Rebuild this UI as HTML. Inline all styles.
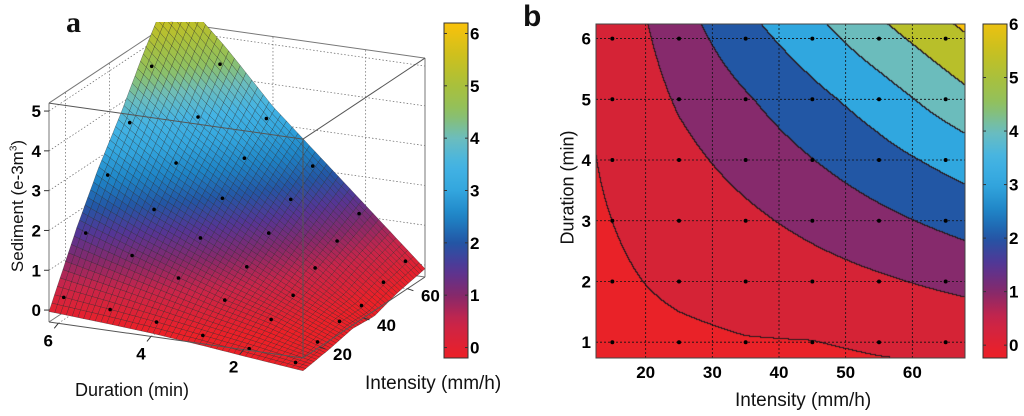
<!DOCTYPE html>
<html><head><meta charset="utf-8"><style>
body{margin:0;background:#fff;width:1024px;height:416px;overflow:hidden;position:relative;font-family:"Liberation Sans",sans-serif}
.t{position:absolute;font-size:15px;color:#111;white-space:nowrap}
#cv{position:absolute;left:596px;top:24px}
svg{position:absolute;left:0;top:0}
</style></head><body>
<svg id="sa" width="1024" height="416"></svg>
<canvas id="cv" width="369" height="334"></canvas>
<svg id="sb" width="1024" height="416"></svg>
<div class="t" style="left:66px;top:6px;font:bold 30px 'Liberation Serif',serif">a</div>
<div class="t" style="left:523px;top:0px;font:bold 30px 'Liberation Sans',sans-serif">b</div>
<div class="t" style="left:75px;top:380px;font-size:18px">Duration (min)</div>
<div class="t" style="left:365px;top:373px;font-size:19px">Intensity (mm/h)</div>
<div class="t" style="left:-57px;top:196px;transform:rotate(-90deg);width:150px;text-align:center;font-size:17px">Sediment (e-3m<sup style="font-size:10px">3</sup>)</div>
<div class="t" style="left:735px;top:390px;font-size:19px">Intensity (mm/h)</div>
<div class="t" style="left:508px;top:177px;transform:rotate(-90deg);width:120px;text-align:center;font-size:18px">Duration (min)</div>
<script>
const intensities=[15,25,35,45,55,65];
const durations=[1,2,3,4,5,6];
const sediment=[ // rows: intensity, cols: duration
[-0.55,-0.37,-0.20,-0.03,0.12,0.26],
[-0.40,0.00,0.32,0.71,1.11,1.51],
[-0.25,0.24,0.79,1.35,1.90,2.60],
[-0.22,0.56,1.27,1.98,2.70,3.55],
[0.00,0.87,1.75,2.62,3.49,4.60],
[0.16,1.19,2.22,3.25,4.45,5.60]];
const levels=[-0.2,1,2,3,4,5,6];
const bandColors=['#e92228','#d52336','#862a6c','#2257a5','#30a7df','#6bbcbc','#b8bf2a','#fcc20a'];
const cbTicks=[0,1,2,3,4,5,6];
const xTicksB=[20,30,40,50,60];
const yTicksB=[1,2,3,4,5,6];
const zTicksA=[0,1,2,3,4,5];
const dTicksA=[6,4,2];
const iTicksA=[20,40,60];
const NS='http://www.w3.org/2000/svg';
function z(I,D){
  let i=Math.min(4,Math.max(0,Math.floor((I-15)/10))),j=Math.min(4,Math.max(0,Math.floor(D-1)));
  let t=(I-intensities[i])/10,s=(D-durations[j]);
  return sediment[i][j]*(1-t)*(1-s)+sediment[i+1][j]*t*(1-s)+sediment[i][j+1]*(1-t)*s+sediment[i+1][j+1]*t*s;
}
const stops=[[-0.2,[236,32,39]],[0.5,[200,37,74]],[1,[134,41,107]],[1.5,[85,53,149]],[2,[35,86,165]],[2.5,[30,132,198]],[3,[51,166,222]],[3.5,[68,180,228]],[4,[108,189,189]],[4.5,[143,192,96]],[5,[169,192,60]],[5.5,[200,192,32]],[6.2,[250,194,10]]];
function cmap(v){v=Math.max(-0.2,Math.min(6.2,v));for(let k=0;k<stops.length-1;k++){const a=stops[k],b=stops[k+1];if(v<=b[0]){const t=(v-a[0])/(b[0]-a[0]);return 'rgb('+a[1].map((c,q)=>Math.round(c+(b[1][q]-c)*t)).join(',')+')';}}return 'rgb(250,194,10)';}
function el(p,tag,at,name,txt){const e=document.createElementNS(NS,tag);for(const k in at)e.setAttribute(k,at[k]);


if(txt!==undefined)e.textContent=txt;p.appendChild(e);return e;}
const TF={'font-size':17,'font-weight':'bold','font-family':'Liberation Sans'};
function txt(p,x,y,anchor,name,t){return el(p,'text',Object.assign({x:x,y:y,'text-anchor':anchor},TF),name,t);}
// ---------- panel a ----------
const Imin=12.5,Imax=68,Dmin=0.72,Dmax=6.2,Zmin=-0.3,Zmax=5.2;
function P(I,D,zz){const u=(I-Imin)/(Imax-Imin),v=(D-Dmin)/(Dmax-Dmin);return [303+u*122-v*254,358-u*81-v*36-(zz-Zmin)*39.8];}
const sa=document.getElementById('sa');
const defs=el(sa,'defs',{},'defs');
const cp=el(defs,'clipPath',{id:'clipA'},'clip');el(cp,'rect',{x:0,y:22,width:440,height:400},'clip-rect');
const grad=el(defs,'linearGradient',{id:'cb',x1:0,y1:1,x2:0,y2:0},'colorbar-gradient');
for(let v=-0.2;v<=6.21;v+=0.2)el(grad,'stop',{offset:((v+0.2)/6.4).toFixed(3),'stop-color':cmap(v)},'gradient-stop');
const gl={stroke:'#666','stroke-width':0.7,'stroke-dasharray':'1.5,2',fill:'none'};
function line(p,a,b,st,name){el(p,'line',Object.assign({x1:a[0],y1:a[1],x2:b[0],y2:b[1]},st),name);}
const bx={stroke:'#777','stroke-width':1,fill:'none'};
zTicksA.forEach(t=>{line(sa,P(Imin,Dmax,t),P(Imax,Dmax,t),gl,'wall-gridline');line(sa,P(Imax,Dmax,t),P(Imax,Dmin,t),gl,'wall-gridline');});
iTicksA.forEach(t=>{line(sa,P(t,Dmax,Zmin),P(t,Dmax,Zmax),gl,'wall-gridline');line(sa,P(t,Dmax,Zmin),P(t,Dmin,Zmin),gl,'floor-gridline');});
dTicksA.forEach(t=>{line(sa,P(Imax,t,Zmin),P(Imax,t,Zmax),gl,'wall-gridline');line(sa,P(Imin,t,Zmin),P(Imax,t,Zmin),gl,'floor-gridline');});
[[P(Imin,Dmax,Zmin),P(Imax,Dmax,Zmin)],[P(Imax,Dmax,Zmin),P(Imax,Dmin,Zmin)],[P(Imin,Dmax,Zmax),P(Imax,Dmax,Zmax)],[P(Imax,Dmax,Zmax),P(Imax,Dmin,Zmax)],[P(Imax,Dmax,Zmin),P(Imax,Dmax,Zmax)],[P(Imin,Dmax,Zmin),P(Imin,Dmax,Zmax)],[P(Imax,Dmin,Zmin),P(Imax,Dmin,Zmax)]].forEach(s=>line(sa,s[0],s[1],bx,'box-edge'));
const gS=el(sa,'g',{'clip-path':'url(#clipA)'},'surface');
const N=44,quads=[];
for(let a=0;a<N;a++)for(let b=0;b<N;b++)quads.push([a,b]);
quads.sort((p,q)=>(q[0]+q[1])-(p[0]+p[1]));
quads.forEach(([a,b])=>{
  const I0=Imin+(Imax-Imin)*a/N,I1=Imin+(Imax-Imin)*(a+1)/N,D0=Dmin+(Dmax-Dmin)*b/N,D1=Dmin+(Dmax-Dmin)*(b+1)/N;
  const pts=[[I0,D0],[I1,D0],[I1,D1],[I0,D1]].map(q=>P(q[0],q[1],z(q[0],q[1])));
  const zc=z((I0+I1)/2,(D0+D1)/2);
  el(gS,'polygon',{points:pts.map(p=>p[0].toFixed(1)+','+p[1].toFixed(1)).join(' '),fill:cmap(zc),stroke:'#222','stroke-width':0.35,'stroke-opacity':0.8},'surface-patch');
});
intensities.forEach((I,i)=>durations.forEach((D,j)=>{const p=P(I,D,sediment[i][j]);el(gS,'circle',{cx:p[0],cy:p[1],r:1.8,fill:'#000'},'observation-point-a');}));
[[P(Imin,Dmin,Zmin),P(Imin,Dmin,Zmax)],[P(Imin,Dmax,Zmax),P(Imin,Dmin,Zmax)],[P(Imin,Dmin,Zmax),P(Imax,Dmin,Zmax)],[P(Imin,Dmax,Zmin),P(Imin,Dmin,Zmin)],[P(Imin,Dmin,Zmin),P(Imax,Dmin,Zmin)]].forEach(s=>line(sa,s[0],s[1],{stroke:'#555','stroke-width':1},'box-edge'));
const tk={stroke:'#333','stroke-width':1};
zTicksA.forEach(t=>{const p=P(Imin,Dmax,t);line(sa,p,[p[0]-5,p[1]],tk,'z-tick');txt(sa,p[0]-8,p[1]+6,'end','z-tick-label',t);});
dTicksA.forEach(t=>{const p=P(Imin,t,Zmin);line(sa,p,[p[0]-4,p[1]+5],tk,'duration-tick');txt(sa,p[0]-10,p[1]+23,'middle','duration-tick-label',t);});
iTicksA.forEach(t=>{const p=P(t,Dmin,Zmin);line(sa,p,[p[0]+6,p[1]+2],tk,'intensity-tick');txt(sa,p[0]+23,p[1]+13,'middle','intensity-tick-label',t);});
function colorbar(svg,x,y0,y1,vmin,vmax,fillId,name){
  el(svg,'rect',{x:x,y:y0,width:24,height:y1-y0,fill:'url(#'+fillId+')',stroke:'#333','stroke-width':1},name);
  cbTicks.forEach(t=>{const y=y1-(t-vmin)/(vmax-vmin)*(y1-y0);line(svg,[x,y],[x+3,y],tk,'colorbar-tick');line(svg,[x+21,y],[x+24,y],tk,'colorbar-tick');
  txt(svg,x+26,y+6,'start','colorbar-tick-label',t);});
}
colorbar(sa,444,23,358,-0.2,6.2,'cb','colorbar-a');
// ---------- panel b ----------
const X0=596,X1=965,Y0=24,Y1=358,bI0=12.55,bI1=67.9,bD0=0.74,bD1=6.24;
const xs=I=>X0+(I-bI0)/(bI1-bI0)*(X1-X0), ys=D=>Y1-(D-bD0)/(bD1-bD0)*(Y1-Y0);
const cv=document.getElementById('cv'),ctx=cv.getContext('2d'),W=369,H=334;
const img=ctx.createImageData(W,H);
const band=[];
for(let py=0;py<H;py++)for(let px=0;px<W;px++){const I=bI0+(px+0.5)/W*(bI1-bI0),D=bD1-(py+0.5)/H*(bD1-bD0);const v=z(I,D);let b=0;while(b<levels.length&&v>=levels[b])b++;band[py*W+px]=b;}
const rgb=bandColors.map(c=>[parseInt(c.substr(1,2),16),parseInt(c.substr(3,2),16),parseInt(c.substr(5,2),16)]);
for(let py=0;py<H;py++)for(let px=0;px<W;px++){const k=py*W+px,b=band[k];let c=rgb[b];
 if((px<W-1&&band[k+1]!==b)||(py<H-1&&band[k+W]!==b))c=[40,25,30];
 img.data.set([c[0],c[1],c[2],255],k*4);}
ctx.putImageData(img,0,0);
const sb=document.getElementById('sb');
const defs2=el(sb,'defs',{},'defs');const g2=el(defs2,'linearGradient',{id:'cb2',x1:0,y1:1,x2:0,y2:0},'colorbar-gradient');
for(let v=-0.24;v<=6.01;v+=0.2)el(g2,'stop',{offset:((v+0.24)/6.24).toFixed(3),'stop-color':cmap(v)},'gradient-stop');
const gd={stroke:'#111','stroke-width':0.8,'stroke-dasharray':'2,2'};
xTicksB.forEach(t=>{line(sb,[xs(t),Y0],[xs(t),Y1],gd,'x-gridline');txt(sb,xs(t),378,'middle','x-tick-label',t);});
yTicksB.forEach(t=>{line(sb,[X0,ys(t)],[X1,ys(t)],gd,'y-gridline');txt(sb,591,ys(t)+6,'end','y-tick-label',t);});
intensities.forEach(I=>durations.forEach(D=>el(sb,'circle',{cx:xs(I),cy:ys(D),r:2,fill:'#000'},'observation-point-b')));
el(sb,'rect',{x:X0,y:Y0,width:X1-X0,height:Y1-Y0,fill:'none',stroke:'#444','stroke-width':1},'plot-frame-b');
colorbar(sb,983,24,358,-0.24,6.0,'cb2','colorbar-b');
</script>
</body></html>
